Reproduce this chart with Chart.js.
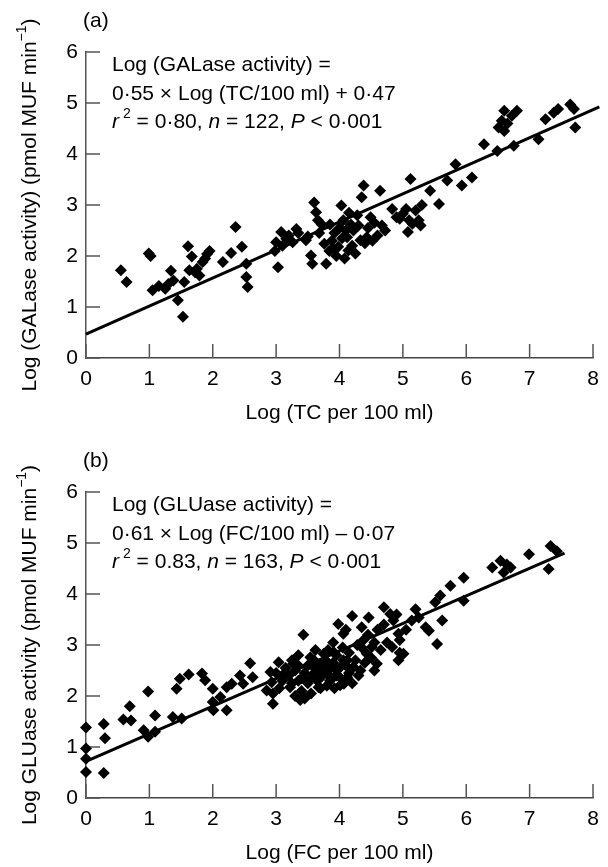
<!DOCTYPE html>
<html>
<head>
<meta charset="utf-8">
<script src="https://cdn.jsdelivr.net/npm/chart.js@4.4.0/dist/chart.umd.min.js"></script>
<style>
  html, body { margin: 0; padding: 0; background: #fff; }
  body { width: 608px; height: 867px; position: relative; overflow: hidden; }
  canvas { position: absolute; left: 0; }
  #chartA { top: 0; }
  #chartB { top: 440px; }
</style>
</head>
<body>
<canvas id="chartA" width="608" height="440"></canvas>
<canvas id="chartB" width="608" height="427"></canvas>
<script>
// Axis ticks
const xTicks = [0, 1, 2, 3, 4, 5, 6, 7, 8];
const yTicks = [0, 1, 2, 3, 4, 5, 6];

// (a) Log TC per 100 ml vs Log GALase activity
const tcLog = [
  0.55, 0.64, 0.99, 1.02, 1.05, 1.15, 1.25, 1.30, 1.34, 1.38, 1.45, 1.53, 1.55, 1.61, 1.67, 1.63,
  1.72, 1.79, 1.84, 1.91, 1.88, 2.16, 2.29, 2.36, 2.46, 2.53, 2.53, 2.55, 3.00, 3.03, 2.98, 3.08,
  3.16, 3.32, 3.26, 3.20, 3.47, 3.55, 3.57, 3.60, 3.63, 3.66, 3.72, 3.79, 3.76, 3.84, 3.88, 3.92,
  3.95, 3.98, 4.03, 4.00, 4.04, 4.06, 4.08, 4.12, 4.14, 4.18, 4.22, 4.25, 4.28, 4.33, 4.35, 4.38,
  4.40, 4.43, 4.49, 4.52, 4.64, 4.67, 4.72, 4.83, 4.90, 4.95, 5.00, 5.05, 5.08, 5.12, 5.15, 5.20,
  5.25, 5.28, 5.30, 5.43, 5.57, 5.70, 5.83, 5.93, 6.09, 6.28, 6.49, 6.51, 6.56, 6.60, 6.65, 6.72,
  6.80, 6.60, 6.75, 7.14, 7.25, 7.38, 7.45, 7.64, 7.70, 7.72, 3.50, 3.68, 3.85, 3.90, 4.10, 4.15,
  4.20, 4.30, 4.45, 4.55, 3.35, 3.10, 1.95, 1.75, 4.60, 5.10
];
const galaseLog = [
  1.72, 1.49, 2.05, 2.00, 1.33, 1.41, 1.36, 1.45, 1.71, 1.52, 1.13, 0.81, 1.49, 2.19, 1.99, 1.72,
  1.68, 1.62, 1.88, 2.04, 1.95, 1.88, 2.06, 2.57, 2.18, 1.85, 1.59, 1.39, 2.27, 1.78, 2.10, 2.47,
  2.34, 2.53, 2.27, 2.40, 2.31, 2.01, 1.85, 3.05, 2.86, 2.70, 2.62, 1.85, 2.24, 2.10, 2.30, 2.45,
  2.00, 2.18, 2.99, 2.55, 2.35, 2.70, 1.95, 2.37, 2.11, 2.62, 2.50, 2.05, 2.80, 2.31, 3.15, 3.38,
  2.25, 2.37, 2.76, 2.30, 3.28, 2.60, 2.50, 2.92, 2.76, 2.73, 2.83, 2.92, 2.47, 3.51, 2.63, 2.89,
  2.70, 2.60, 3.00, 3.28, 3.02, 3.48, 3.80, 3.38, 3.54, 4.19, 4.06, 4.52, 4.65, 4.85, 4.60, 4.75,
  4.85, 4.45, 4.16, 4.29, 4.68, 4.81, 4.88, 4.97, 4.88, 4.52, 2.38, 2.45, 2.62, 2.15, 2.50, 2.85,
  2.20, 2.60, 2.55, 2.65, 2.45, 2.20, 2.10, 1.75, 2.40, 2.70
];
const fitAX = [0, 8.1];
const fitAY = [0.47, 4.925];

// (b) Log FC per 100 ml vs Log GLUase activity
const fcLog = [
  0.00, 0.00, 0.00, 0.00, 0.28, 0.30, 0.28, 0.59, 0.69, 0.71, 0.98, 0.91, 0.98, 1.09, 1.09, 1.37,
  1.43, 1.48, 1.51, 1.62, 1.83, 1.88, 2.00, 2.00, 2.01, 2.12, 2.22, 2.22, 2.30, 2.43, 2.48, 2.59,
  2.63, 2.85, 2.91, 2.95, 3.04, 2.93, 3.12, 3.22, 3.27, 3.35, 3.38, 3.43, 3.54, 3.59, 3.67, 3.69,
  3.75, 3.83, 3.85, 3.91, 3.96, 4.01, 4.06, 4.12, 4.06, 3.98,
  4.07, 4.12, 4.20, 4.22, 4.33, 4.35, 4.46, 4.43, 4.51, 4.59, 4.70, 4.80, 4.85, 4.83, 4.93, 5.01,
  4.93, 5.14, 5.25, 5.36, 5.41, 5.54, 5.62, 5.51, 5.59, 5.75, 5.96, 5.96, 6.41, 6.54, 6.64, 6.59,
  6.70, 6.99, 7.33, 7.43, 7.30,
  3.10, 3.15, 3.20, 3.25, 3.30, 3.30, 3.35, 3.40, 3.40, 3.45, 3.50, 3.50, 3.55, 3.55, 3.60, 3.60,
  3.65, 3.65, 3.70, 3.70, 3.72, 3.75, 3.78, 3.80, 3.80, 3.82, 3.85, 3.88, 3.90, 3.92, 3.95, 3.95,
  4.00, 4.02, 4.05, 4.10, 4.15, 4.15, 4.20, 4.25, 4.28, 4.30, 4.38, 4.40, 4.45, 4.50, 4.55, 4.60,
  4.65, 4.70, 4.75, 4.90, 4.95, 3.00, 2.95, 3.05, 3.25, 3.45, 3.35, 3.62, 3.90, 4.10, 4.35, 4.55,
  4.95, 5.05, 5.20
];
const gluaseLog = [
  1.38, 0.97, 0.77, 0.51, 1.45, 1.17, 0.49, 1.54, 1.80, 1.52, 2.09, 1.33, 1.20, 1.62, 1.30, 1.59,
  2.14, 2.34, 1.56, 2.42, 2.44, 2.31, 2.14, 1.88, 1.72, 1.98, 1.72, 2.17, 2.24, 2.40, 2.24, 2.64,
  2.37, 2.11, 2.47, 1.85, 2.66, 2.27, 2.43, 2.17, 2.63, 2.30, 1.92, 3.20, 2.76, 2.57, 2.17, 2.43,
  2.83, 2.63, 2.30, 2.86, 2.50, 2.21, 2.70, 2.37, 3.22, 3.41,
  2.24, 2.70, 3.57, 2.57, 2.50, 3.35, 3.54, 2.83, 2.96, 2.63, 3.74, 3.61, 3.48, 2.96, 2.70, 2.83,
  3.22, 3.48, 3.54, 3.35, 3.28, 3.02, 3.48, 3.84, 3.97, 4.16, 4.32, 3.87, 4.52, 4.65, 4.58, 4.42,
  4.52, 4.78, 4.94, 4.84, 4.49,
  2.30, 2.55, 2.40, 2.25, 2.50, 2.00, 2.60, 2.35, 2.10, 2.45, 2.25, 2.60, 2.35, 2.05, 2.45, 2.70,
  2.30, 2.55, 2.60, 2.15, 2.38, 2.50, 2.70, 2.20, 2.45, 2.90, 2.55, 2.35, 2.65, 2.15, 2.40, 2.80,
  2.55, 2.35, 2.95, 2.60, 2.45, 2.85, 2.25, 2.70, 3.00, 2.40, 3.10, 2.65, 3.20, 2.75, 3.05, 3.30,
  2.90, 3.40, 3.05, 3.60, 3.10, 2.45, 2.05, 2.15, 2.70, 1.95, 2.80, 2.90, 3.05, 3.30, 2.95, 2.50,
  2.85, 3.30, 3.70
];
const fitBX = [0, 7.55];
const fitBY = [0.72, 4.80];

const FONT = "'Liberation Sans', Arial, Helvetica, sans-serif";
const SIZE = 21;

function segFont(s) {
  return (s.italic ? 'italic ' : '') + (s.sup ? 14 : SIZE) + 'px ' + FONT;
}
function richWidth(ctx, segs) {
  let w = 0;
  segs.forEach(s => { ctx.font = segFont(s); w += (s.pre || 0) + ctx.measureText(s.t).width; });
  return w;
}
function drawRich(ctx, segs, x, y) {
  ctx.textAlign = 'left';
  ctx.textBaseline = 'middle';
  segs.forEach(s => {
    ctx.font = segFont(s);
    x += s.pre || 0;
    ctx.fillText(s.t, x, s.sup ? y - 8 : y);
    x += ctx.measureText(s.t).width;
  });
}

// Inward tick marks and all the panel texts
const panelText = {
  id: 'panelText',
  beforeDatasetsDraw(chart) {
    const { ctx, chartArea: a, scales: { x, y } } = chart;
    ctx.save();
    ctx.strokeStyle = '#555';
    ctx.lineWidth = 1.5;
    ctx.beginPath();
    yTicks.forEach(v => {
      const py = y.getPixelForValue(v);
      ctx.moveTo(a.left, py);
      ctx.lineTo(a.left + 14, py);
    });
    xTicks.forEach(v => {
      const px = x.getPixelForValue(v);
      ctx.moveTo(px, a.bottom);
      ctx.lineTo(px, a.bottom - 14);
    });
    ctx.stroke();
    ctx.restore();
  },
  afterDraw(chart, args, opts) {
    const { ctx, chartArea: a } = chart;
    ctx.save();
    ctx.fillStyle = '#000';
    drawRich(ctx, [{ t: opts.panel }], a.left - 3, a.top - 31);
    [13, 42, 70].forEach((dy, i) => drawRich(ctx, opts.eq[i], a.left + 26, a.top + dy));
    ctx.font = SIZE + 'px ' + FONT;
    ctx.textAlign = 'center';
    ctx.textBaseline = 'middle';
    ctx.fillText(opts.xTitle, (a.left + a.right) / 2, a.bottom + 55);
    ctx.translate(30, (a.top + a.bottom) / 2);
    ctx.rotate(-Math.PI / 2);
    drawRich(ctx, opts.yTitle, -richWidth(ctx, opts.yTitle) / 2, 0);
    ctx.restore();
  }
};

function makeChart(id, height, xs, ys, fx, fy, text) {
  const points = xs.map((v, i) => ({ x: v, y: ys[i] }));
  const fit = fx.map((v, i) => ({ x: v, y: fy[i] }));
  const tickFont = { family: FONT, size: SIZE };
  return new Chart(document.getElementById(id), {
    type: 'scatter',
    data: {
      datasets: [
        {
          data: points,
          pointStyle: 'rectRot',
          pointRadius: 6,
          backgroundColor: '#000',
          borderColor: '#000',
          borderWidth: 0,
          clip: false
        },
        {
          type: 'line',
          data: fit,
          borderColor: '#000',
          borderWidth: 3,
          pointRadius: 0,
          fill: false,
          clip: false
        }
      ]
    },
    options: {
      responsive: false,
      animation: false,
      devicePixelRatio: 1,
      layout: { padding: { top: 52, right: 15, left: 0, bottom: 0 } },
      plugins: {
        legend: { display: false },
        tooltip: { enabled: false },
        panelText: text
      },
      scales: {
        x: {
          type: 'linear',
          min: 0,
          max: 8,
          afterBuildTicks: s => { s.ticks = xTicks.map(v => ({ value: v })); },
          afterFit: s => { s.height = height - 358; },
          grid: { display: false, drawTicks: false },
          border: { color: '#444', width: 1.5 },
          ticks: { font: tickFont, color: '#000', padding: 9, maxRotation: 0, autoSkip: false }
        },
        y: {
          type: 'linear',
          min: 0,
          max: 6,
          afterBuildTicks: s => { s.ticks = yTicks.map(v => ({ value: v })); },
          afterFit: s => { s.width = 86; },
          grid: { display: false, drawTicks: false },
          border: { color: '#555', width: 1.5 },
          ticks: { font: tickFont, color: '#000', padding: 8 }
        }
      }
    },
    plugins: [panelText]
  });
}

makeChart('chartA', 440, tcLog, galaseLog, fitAX, fitAY, {
  panel: '(a)',
  eq: [
    [{ t: 'Log (GALase activity) =' }],
    [{ t: '0·55 × Log (TC/100 ml) + 0·47' }],
    [{ t: 'r', italic: true }, { t: '2', sup: true, pre: 4 }, { t: ' = 0·80, ' }, { t: 'n', italic: true },
     { t: ' = 122, ' }, { t: 'P', italic: true }, { t: ' < 0·001' }]
  ],
  xTitle: 'Log (TC per 100 ml)',
  yTitle: [{ t: 'Log (GALase activity) (pmol MUF min' }, { t: '−1', sup: true }, { t: ')' }]
});

makeChart('chartB', 427, fcLog, gluaseLog, fitBX, fitBY, {
  panel: '(b)',
  eq: [
    [{ t: 'Log (GLUase activity) =' }],
    [{ t: '0·61 × Log (FC/100 ml) – 0·07' }],
    [{ t: 'r', italic: true }, { t: '2', sup: true, pre: 4 }, { t: ' = 0.83, ' }, { t: 'n', italic: true },
     { t: ' = 163, ' }, { t: 'P', italic: true }, { t: ' < 0·001' }]
  ],
  xTitle: 'Log (FC per 100 ml)',
  yTitle: [{ t: 'Log GLUase activity (pmol MUF min' }, { t: '−1', sup: true }, { t: ')' }]
});
</script>
</body>
</html>
